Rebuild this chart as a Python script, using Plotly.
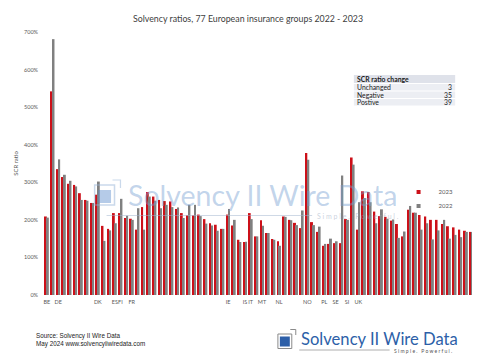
import plotly.graph_objects as go

# ---------------- data ----------------
group_idx = list(range(1, 78))
ratio_2023 = [209, 542, 335, 314, 296, 293, 271, 253, 245, 267,
              184, 176, 218, 218, 205, 203, 174, 234, 274, 262,
              253, 250, 249, 229, 218, 212, 212, 214, 202, 191,
              187, 176, 214, 185, 147, 141, 218, 156, 199, 165,
              149, 143, 209, 200, 192, 178, 378, 194, 168, 131,
              136, 138, 138, 202, 366, 174, 276, 274, 222, 210,
              208, 198, 189, 156, 227, 219, 213, 209, 200, 200,
              189, 183, 180, 174, 171, 168, 168]
ratio_2022 = [206, 681, 361, 320, 304, 289, 253, 251, 245, 302,
              144, 172, 191, 256, 211, 200, 231, 174, 262, 251,
              231, 240, 234, 233, 205, 240, 240, 210, 190, 185,
              171, 176, 229, 200, 141, 142, 202, 156, 184, 165,
              147, 131, 208, 199, 186, 225, 360, 186, 182, 136,
              150, 143, 318, 200, 347, 247, 258, 247, 191, 228,
              203, 201, 152, 169, 237, 219, 174, 191, 148, 172,
              200, 150, 160, 154, 168, 168, 154]
country_pos = [1, 3, 10, 13, 14, 16, 33, 36, 37, 39, 42, 47, 50, 52, 54, 56]
country_lbl = ["BE", "DE", "DK", "ES", "FI", "FR", "IE", "IS", "IT", "MT",
               "NL", "NO", "PL", "SE", "SI", "UK"]
y_ticks = [0, 100, 200, 300, 400, 500, 600, 700]
y_tick_text = [f"{v}%" for v in y_ticks]
table_title = "SCR ratio change"
table_labels = ["Unchanged", "Negative", "Postive"]
table_values = [3, 35, 39]

RED = "#cc1019"
GREY = "#808080"

# plot area in pixels
L, R, T, B = 33, 472, 24, 287
PW, PH = R - L, B - T


def px(x):
    return (x - L) / PW


def py(y):
    return (B - y) / PH


fig = go.Figure()
fig.add_trace(go.Bar(x=group_idx, y=ratio_2023, name="2023", marker_color=RED,
                     marker_line_width=0, showlegend=False))
fig.add_trace(go.Bar(x=group_idx, y=ratio_2022, name="2022", marker_color=GREY,
                     marker_line_width=0, showlegend=False))
# legend entries
fig.add_trace(go.Scatter(x=[None], y=[None], mode="markers", name="2023",
                         marker=dict(symbol="square", size=4, color=RED),
                         legend="legend"))
fig.add_trace(go.Scatter(x=[None], y=[None], mode="markers", name="2022",
                         marker=dict(symbol="square", size=4, color=GREY),
                         legend="legend2"))

shapes = []
annotations = []

# ---- watermark ----
WM = "rgba(120,160,210,0.45)"
shapes.append(dict(type="rect", xref="paper", yref="paper",
                   x0=px(84), x1=px(104), y0=py(197), y1=py(177),
                   line=dict(color="rgba(150,180,215,0.5)", width=1.5), fillcolor="rgba(0,0,0,0)"))
shapes.append(dict(type="rect", xref="paper", yref="paper",
                   x0=px(87.5), x1=px(100.5), y0=py(195), y1=py(182),
                   line=dict(width=0), fillcolor="rgba(90,140,205,0.45)"))
shapes.append(dict(type="path", xref="paper", yref="paper",
                   path=f"M {px(102)},{py(172)} L {px(110)},{py(172)} L {px(110)},{py(180)}",
                   line=dict(color="rgba(150,180,215,0.5)", width=1.2)))
shapes.append(dict(type="line", xref="paper", yref="paper",
                   x0=px(96), x1=px(303), y0=py(207.5), y1=py(207.5),
                   line=dict(color="rgba(160,180,205,0.5)", width=1)))
annotations.append(dict(text="Solvency II Wire Data", xref="paper", yref="paper",
                        x=px(116), y=py(186.5), xanchor="left", yanchor="middle",
                        showarrow=False, font=dict(family="Lato", size=28.5, color=WM)))
annotations.append(dict(text="S i m p l e .   P o w e r f u l .", xref="paper", yref="paper",
                        x=px(306), y=py(208), xanchor="left", yanchor="middle",
                        showarrow=False, font=dict(family="Lato", size=7, color="rgba(150,165,190,0.5)")))

# ---- table ----
tx0, tx1 = 345, 447
rows = [(66.5, 75.5), (75.5, 83), (83, 90.5), (90.5, 98)]
for i, (y0, y1) in enumerate(rows):
    shapes.append(dict(type="rect", xref="paper", yref="paper",
                       x0=px(tx0), x1=px(tx1), y0=py(y1 - 0.4), y1=py(y0 + 0.4),
                       line=dict(width=0),
                       fillcolor="#dfe2ea" if i == 0 else "#eceef3"))
annotations.append(dict(text=f"<b>{table_title}</b>", xref="paper", yref="paper",
                        x=px(tx0 + 1.5), y=py((rows[0][0] + rows[0][1]) / 2),
                        xanchor="left", yanchor="middle", showarrow=False,
                        font=dict(family="Lato", size=6.8, color="#1a1a1a")))
for i, (lab, val) in enumerate(zip(table_labels, table_values)):
    yc = py((rows[i + 1][0] + rows[i + 1][1]) / 2)
    annotations.append(dict(text=lab, xref="paper", yref="paper", x=px(tx0 + 1.5), y=yc,
                            xanchor="left", yanchor="middle", showarrow=False,
                            font=dict(family="Lato", size=6.8, color="#1a1a1a")))
    annotations.append(dict(text=str(val), xref="paper", yref="paper", x=px(tx1 - 1), y=yc,
                            xanchor="right", yanchor="middle", showarrow=False,
                            font=dict(family="Lato", size=6.8, color="#1a1a1a")))

# ---- footer ----
annotations.append(dict(text="Source: Solvency II Wire Data<br>May 2024 www.solvencyiiwiredata.com",
                        xref="paper", yref="paper", x=px(22.5), y=py(331.5),
                        xanchor="left", yanchor="middle", align="left", showarrow=False,
                        font=dict(family="Liberation Sans", size=6.3, color="#222222")))
LOGO = "#2d5fa8"
shapes.append(dict(type="rect", xref="paper", yref="paper",
                   x0=px(268.5), x1=px(282.5), y0=py(340.5), y1=py(326),
                   line=dict(color="#8a8a8a", width=1), fillcolor="white"))
shapes.append(dict(type="rect", xref="paper", yref="paper",
                   x0=px(270.5), x1=px(280.5), y0=py(338.5), y1=py(328.5),
                   line=dict(width=0), fillcolor=LOGO))
shapes.append(dict(type="path", xref="paper", yref="paper",
                   path=f"M {px(281)},{py(321.5)} L {px(286.5)},{py(321.5)} L {px(286.5)},{py(327)}",
                   line=dict(color="#8a8a8a", width=1)))
shapes.append(dict(type="line", xref="paper", yref="paper",
                   x0=px(290), x1=px(381), y0=py(342), y1=py(342),
                   line=dict(color="#9a9a9a", width=0.8)))
annotations.append(dict(text="Solvency II Wire Data", xref="paper", yref="paper",
                        x=px(289.5), y=py(330.5), xanchor="left", yanchor="middle",
                        showarrow=False, font=dict(family="Lato", size=16.6, color=LOGO)))
annotations.append(dict(text="S i m p l e .   P o w e r f u l .", xref="paper", yref="paper",
                        x=px(383), y=py(343), xanchor="left", yanchor="middle",
                        showarrow=False, font=dict(family="Lato", size=5, color="#555555")))

fig.update_layout(
    width=480, height=360,
    margin=dict(l=L, r=480 - R, t=T, b=360 - B),
    paper_bgcolor="white", plot_bgcolor="white",
    font=dict(family="Lato", color="#595959"),
    title=dict(text="Solvency ratios, 77 European insurance groups 2022 - 2023",
               x=0.5, xref="container", y=1 - 10.7 / 360, yref="container",
               xanchor="center", yanchor="middle",
               font=dict(family="Lato", size=8.8, color="#404040")),
    barmode="group", bargap=0.3, bargroupgap=0,
    xaxis=dict(range=[0.5, 77.5], tickmode="array", tickvals=country_pos,
               ticktext=country_lbl, showgrid=False, zeroline=False, showline=False,
               ticks="", tickangle=0, tickfont=dict(size=5.5, color="#595959"),
               ticklabelstandoff=2),
    yaxis=dict(range=[0, 700], tickmode="array", tickvals=y_ticks, ticktext=y_tick_text,
               showgrid=False, zeroline=False, showline=False, ticks="",
               tickfont=dict(size=5.5, color="#595959"), ticklabelstandoff=5,
               title=dict(text="SCR ratio", font=dict(size=6, color="#595959"), standoff=4)),
    legend=dict(x=px(390), y=py(184), xanchor="left", yanchor="middle",
                font=dict(size=6, color="#595959"), bgcolor="rgba(0,0,0,0)",
                itemwidth=30),
    legend2=dict(x=px(390), y=py(198), xanchor="left", yanchor="middle",
                 font=dict(size=6, color="#595959"), bgcolor="rgba(0,0,0,0)",
                 itemwidth=30),
    shapes=shapes, annotations=annotations,
)

fig.write_html("out.html")
